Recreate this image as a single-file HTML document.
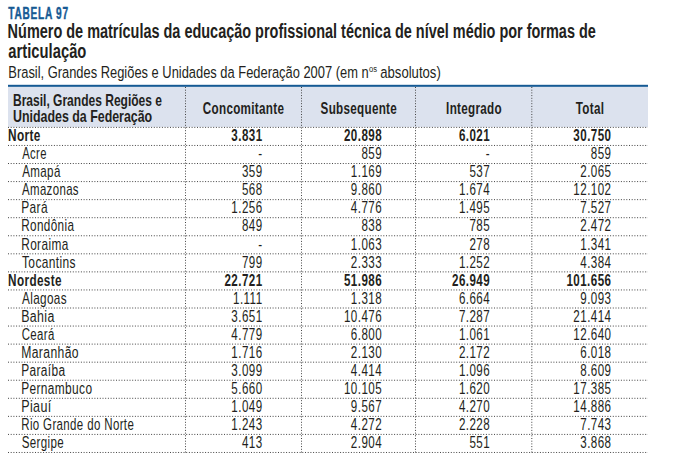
<!DOCTYPE html>
<html><head><meta charset="utf-8"><title>Tabela 97</title>
<style>
html,body{margin:0;padding:0;background:#fff;width:700px;height:461px;overflow:hidden}
svg{display:block;font-family:"Liberation Sans",sans-serif}
</style></head><body>
<svg width="700" height="461" viewBox="0 0 700 461">
<rect x="8" y="86" width="640" height="41" fill="#dce2ee"/>
<rect x="8" y="84.8" width="640" height="2" fill="#165a94"/>
<line x1="8" y1="127.40" x2="648" y2="127.40" stroke="#444" stroke-width="1" stroke-dasharray="1 1.7"/>
<line x1="8" y1="145.46" x2="648" y2="145.46" stroke="#444" stroke-width="1" stroke-dasharray="1 1.7"/>
<line x1="8" y1="163.52" x2="648" y2="163.52" stroke="#444" stroke-width="1" stroke-dasharray="1 1.7"/>
<line x1="8" y1="181.58" x2="648" y2="181.58" stroke="#444" stroke-width="1" stroke-dasharray="1 1.7"/>
<line x1="8" y1="199.64" x2="648" y2="199.64" stroke="#444" stroke-width="1" stroke-dasharray="1 1.7"/>
<line x1="8" y1="217.70" x2="648" y2="217.70" stroke="#444" stroke-width="1" stroke-dasharray="1 1.7"/>
<line x1="8" y1="235.76" x2="648" y2="235.76" stroke="#444" stroke-width="1" stroke-dasharray="1 1.7"/>
<line x1="8" y1="253.82" x2="648" y2="253.82" stroke="#444" stroke-width="1" stroke-dasharray="1 1.7"/>
<line x1="8" y1="271.88" x2="648" y2="271.88" stroke="#444" stroke-width="1" stroke-dasharray="1 1.7"/>
<line x1="8" y1="289.94" x2="648" y2="289.94" stroke="#444" stroke-width="1" stroke-dasharray="1 1.7"/>
<line x1="8" y1="308.00" x2="648" y2="308.00" stroke="#444" stroke-width="1" stroke-dasharray="1 1.7"/>
<line x1="8" y1="326.06" x2="648" y2="326.06" stroke="#444" stroke-width="1" stroke-dasharray="1 1.7"/>
<line x1="8" y1="344.12" x2="648" y2="344.12" stroke="#444" stroke-width="1" stroke-dasharray="1 1.7"/>
<line x1="8" y1="362.18" x2="648" y2="362.18" stroke="#444" stroke-width="1" stroke-dasharray="1 1.7"/>
<line x1="8" y1="380.24" x2="648" y2="380.24" stroke="#444" stroke-width="1" stroke-dasharray="1 1.7"/>
<line x1="8" y1="398.30" x2="648" y2="398.30" stroke="#444" stroke-width="1" stroke-dasharray="1 1.7"/>
<line x1="8" y1="416.36" x2="648" y2="416.36" stroke="#444" stroke-width="1" stroke-dasharray="1 1.7"/>
<line x1="8" y1="434.42" x2="648" y2="434.42" stroke="#444" stroke-width="1" stroke-dasharray="1 1.7"/>
<line x1="8" y1="452.48" x2="648" y2="452.48" stroke="#444" stroke-width="1" stroke-dasharray="1 1.7"/>
<line x1="185.5" y1="87" x2="185.5" y2="452.48" stroke="#444" stroke-width="1" stroke-dasharray="1 1.7"/>
<line x1="301.5" y1="87" x2="301.5" y2="452.48" stroke="#444" stroke-width="1" stroke-dasharray="1 1.7"/>
<line x1="415.5" y1="87" x2="415.5" y2="452.48" stroke="#444" stroke-width="1" stroke-dasharray="1 1.7"/>
<line x1="531.8" y1="87" x2="531.8" y2="452.48" stroke="#444" stroke-width="1" stroke-dasharray="1 1.7"/>
<text transform="translate(8.26,18.70) scale(0.6132,1)" font-size="16.5" font-weight="bold" letter-spacing="1.2" stroke="#165a94" stroke-width="0.45" fill="#165a94">TABELA 97</text>
<text transform="translate(7.60,38.00) scale(0.7422,1)" font-size="19.5" font-weight="bold" fill="#231f20">Número de matrículas da educação profissional técnica de nível médio por formas de</text>
<text transform="translate(8.34,57.50) scale(0.7583,1)" font-size="19.5" font-weight="bold" fill="#231f20">articulação</text>
<text transform="translate(8.34,78.00) scale(0.7815,1)" font-size="16.5" fill="#231f20">Brasil, Grandes Regiões e Unidades da Federação 2007 (em n</text>
<text transform="translate(369.00,72.30) scale(0.8000,1)" font-size="9.5" fill="#231f20">os</text>
<text transform="translate(380.20,78.00) scale(0.7967,1)" font-size="16.5" fill="#231f20">absolutos)</text>
<text transform="translate(12.99,106.00) scale(0.7524,1)" font-size="16" font-weight="bold" fill="#231f20">Brasil, Grandes Regiões e</text>
<text transform="translate(13.03,121.80) scale(0.7759,1)" font-size="16" font-weight="bold" fill="#231f20">Unidades da Federação</text>
<text transform="translate(243.50,114.20) scale(0.7300,1)" font-size="16" font-weight="bold" text-anchor="middle" letter-spacing="0.4" fill="#231f20">Concomitante</text>
<text transform="translate(358.80,114.20) scale(0.7300,1)" font-size="16" font-weight="bold" text-anchor="middle" letter-spacing="0.4" fill="#231f20">Subsequente</text>
<text transform="translate(474.00,114.20) scale(0.7300,1)" font-size="16" font-weight="bold" text-anchor="middle" letter-spacing="0.4" fill="#231f20">Integrado</text>
<text transform="translate(590.00,114.20) scale(0.7300,1)" font-size="16" font-weight="bold" text-anchor="middle" letter-spacing="0.4" fill="#231f20">Total</text>
<text transform="translate(8.10,141.00) scale(0.7393,1)" font-size="16" font-weight="bold" letter-spacing="0.5" fill="#231f20">Norte</text>
<text transform="translate(262.54,141.00) scale(0.7250,1)" font-size="16" font-weight="bold" text-anchor="end" letter-spacing="0.6" fill="#231f20">3.831</text>
<text transform="translate(382.04,141.00) scale(0.7250,1)" font-size="16" font-weight="bold" text-anchor="end" letter-spacing="0.6" fill="#231f20">20.898</text>
<text transform="translate(490.14,141.00) scale(0.7250,1)" font-size="16" font-weight="bold" text-anchor="end" letter-spacing="0.6" fill="#231f20">6.021</text>
<text transform="translate(611.44,141.00) scale(0.7250,1)" font-size="16" font-weight="bold" text-anchor="end" letter-spacing="0.6" fill="#231f20">30.750</text>
<text transform="translate(22.23,159.09) scale(0.7028,1)" font-size="16" letter-spacing="0.5" fill="#231f20">Acre</text>
<text transform="translate(262.54,159.09) scale(0.7250,1)" font-size="16" text-anchor="end" letter-spacing="0.6" fill="#231f20">-</text>
<text transform="translate(382.04,159.09) scale(0.7250,1)" font-size="16" text-anchor="end" letter-spacing="0.6" fill="#231f20">859</text>
<text transform="translate(490.14,159.09) scale(0.7250,1)" font-size="16" text-anchor="end" letter-spacing="0.6" fill="#231f20">-</text>
<text transform="translate(611.44,159.09) scale(0.7250,1)" font-size="16" text-anchor="end" letter-spacing="0.6" fill="#231f20">859</text>
<text transform="translate(22.23,177.17) scale(0.7241,1)" font-size="16" letter-spacing="0.5" fill="#231f20">Amapá</text>
<text transform="translate(262.54,177.17) scale(0.7250,1)" font-size="16" text-anchor="end" letter-spacing="0.6" fill="#231f20">359</text>
<text transform="translate(382.04,177.17) scale(0.7250,1)" font-size="16" text-anchor="end" letter-spacing="0.6" fill="#231f20">1.169</text>
<text transform="translate(490.14,177.17) scale(0.7250,1)" font-size="16" text-anchor="end" letter-spacing="0.6" fill="#231f20">537</text>
<text transform="translate(611.44,177.17) scale(0.7250,1)" font-size="16" text-anchor="end" letter-spacing="0.6" fill="#231f20">2.065</text>
<text transform="translate(21.99,195.25) scale(0.7162,1)" font-size="16" letter-spacing="0.5" fill="#231f20">Amazonas</text>
<text transform="translate(262.54,195.25) scale(0.7250,1)" font-size="16" text-anchor="end" letter-spacing="0.6" fill="#231f20">568</text>
<text transform="translate(382.04,195.25) scale(0.7250,1)" font-size="16" text-anchor="end" letter-spacing="0.6" fill="#231f20">9.860</text>
<text transform="translate(490.14,195.25) scale(0.7250,1)" font-size="16" text-anchor="end" letter-spacing="0.6" fill="#231f20">1.674</text>
<text transform="translate(611.44,195.25) scale(0.7250,1)" font-size="16" text-anchor="end" letter-spacing="0.6" fill="#231f20">12.102</text>
<text transform="translate(21.20,213.34) scale(0.7470,1)" font-size="16" letter-spacing="0.5" fill="#231f20">Pará</text>
<text transform="translate(262.54,213.34) scale(0.7250,1)" font-size="16" text-anchor="end" letter-spacing="0.6" fill="#231f20">1.256</text>
<text transform="translate(382.04,213.34) scale(0.7250,1)" font-size="16" text-anchor="end" letter-spacing="0.6" fill="#231f20">4.776</text>
<text transform="translate(490.14,213.34) scale(0.7250,1)" font-size="16" text-anchor="end" letter-spacing="0.6" fill="#231f20">1.495</text>
<text transform="translate(611.44,213.34) scale(0.7250,1)" font-size="16" text-anchor="end" letter-spacing="0.6" fill="#231f20">7.527</text>
<text transform="translate(21.20,231.42) scale(0.7346,1)" font-size="16" letter-spacing="0.5" fill="#231f20">Rondônia</text>
<text transform="translate(262.54,231.42) scale(0.7250,1)" font-size="16" text-anchor="end" letter-spacing="0.6" fill="#231f20">849</text>
<text transform="translate(382.04,231.42) scale(0.7250,1)" font-size="16" text-anchor="end" letter-spacing="0.6" fill="#231f20">838</text>
<text transform="translate(490.14,231.42) scale(0.7250,1)" font-size="16" text-anchor="end" letter-spacing="0.6" fill="#231f20">785</text>
<text transform="translate(611.44,231.42) scale(0.7250,1)" font-size="16" text-anchor="end" letter-spacing="0.6" fill="#231f20">2.472</text>
<text transform="translate(21.21,249.51) scale(0.7419,1)" font-size="16" letter-spacing="0.5" fill="#231f20">Roraima</text>
<text transform="translate(262.54,249.51) scale(0.7250,1)" font-size="16" text-anchor="end" letter-spacing="0.6" fill="#231f20">-</text>
<text transform="translate(382.04,249.51) scale(0.7250,1)" font-size="16" text-anchor="end" letter-spacing="0.6" fill="#231f20">1.063</text>
<text transform="translate(490.14,249.51) scale(0.7250,1)" font-size="16" text-anchor="end" letter-spacing="0.6" fill="#231f20">278</text>
<text transform="translate(611.44,249.51) scale(0.7250,1)" font-size="16" text-anchor="end" letter-spacing="0.6" fill="#231f20">1.341</text>
<text transform="translate(21.99,267.60) scale(0.7488,1)" font-size="16" letter-spacing="0.5" fill="#231f20">Tocantins</text>
<text transform="translate(262.54,267.60) scale(0.7250,1)" font-size="16" text-anchor="end" letter-spacing="0.6" fill="#231f20">799</text>
<text transform="translate(382.04,267.60) scale(0.7250,1)" font-size="16" text-anchor="end" letter-spacing="0.6" fill="#231f20">2.333</text>
<text transform="translate(490.14,267.60) scale(0.7250,1)" font-size="16" text-anchor="end" letter-spacing="0.6" fill="#231f20">1.252</text>
<text transform="translate(611.44,267.60) scale(0.7250,1)" font-size="16" text-anchor="end" letter-spacing="0.6" fill="#231f20">4.384</text>
<text transform="translate(8.12,285.68) scale(0.7347,1)" font-size="16" font-weight="bold" letter-spacing="0.5" fill="#231f20">Nordeste</text>
<text transform="translate(262.54,285.68) scale(0.7250,1)" font-size="16" font-weight="bold" text-anchor="end" letter-spacing="0.6" fill="#231f20">22.721</text>
<text transform="translate(382.04,285.68) scale(0.7250,1)" font-size="16" font-weight="bold" text-anchor="end" letter-spacing="0.6" fill="#231f20">51.986</text>
<text transform="translate(490.14,285.68) scale(0.7250,1)" font-size="16" font-weight="bold" text-anchor="end" letter-spacing="0.6" fill="#231f20">26.949</text>
<text transform="translate(611.44,285.68) scale(0.7250,1)" font-size="16" font-weight="bold" text-anchor="end" letter-spacing="0.6" fill="#231f20">101.656</text>
<text transform="translate(21.99,303.77) scale(0.7348,1)" font-size="16" letter-spacing="0.5" fill="#231f20">Alagoas</text>
<text transform="translate(262.54,303.77) scale(0.7250,1)" font-size="16" text-anchor="end" letter-spacing="0.6" fill="#231f20">1.111</text>
<text transform="translate(382.04,303.77) scale(0.7250,1)" font-size="16" text-anchor="end" letter-spacing="0.6" fill="#231f20">1.318</text>
<text transform="translate(490.14,303.77) scale(0.7250,1)" font-size="16" text-anchor="end" letter-spacing="0.6" fill="#231f20">6.664</text>
<text transform="translate(611.44,303.77) scale(0.7250,1)" font-size="16" text-anchor="end" letter-spacing="0.6" fill="#231f20">9.093</text>
<text transform="translate(21.16,321.85) scale(0.7749,1)" font-size="16" letter-spacing="0.5" fill="#231f20">Bahia</text>
<text transform="translate(262.54,321.85) scale(0.7250,1)" font-size="16" text-anchor="end" letter-spacing="0.6" fill="#231f20">3.651</text>
<text transform="translate(382.04,321.85) scale(0.7250,1)" font-size="16" text-anchor="end" letter-spacing="0.6" fill="#231f20">10.476</text>
<text transform="translate(490.14,321.85) scale(0.7250,1)" font-size="16" text-anchor="end" letter-spacing="0.6" fill="#231f20">7.287</text>
<text transform="translate(611.44,321.85) scale(0.7250,1)" font-size="16" text-anchor="end" letter-spacing="0.6" fill="#231f20">21.414</text>
<text transform="translate(21.73,339.94) scale(0.7153,1)" font-size="16" letter-spacing="0.5" fill="#231f20">Ceará</text>
<text transform="translate(262.54,339.94) scale(0.7250,1)" font-size="16" text-anchor="end" letter-spacing="0.6" fill="#231f20">4.779</text>
<text transform="translate(382.04,339.94) scale(0.7250,1)" font-size="16" text-anchor="end" letter-spacing="0.6" fill="#231f20">6.800</text>
<text transform="translate(490.14,339.94) scale(0.7250,1)" font-size="16" text-anchor="end" letter-spacing="0.6" fill="#231f20">1.061</text>
<text transform="translate(611.44,339.94) scale(0.7250,1)" font-size="16" text-anchor="end" letter-spacing="0.6" fill="#231f20">12.640</text>
<text transform="translate(21.17,358.02) scale(0.7607,1)" font-size="16" letter-spacing="0.5" fill="#231f20">Maranhão</text>
<text transform="translate(262.54,358.02) scale(0.7250,1)" font-size="16" text-anchor="end" letter-spacing="0.6" fill="#231f20">1.716</text>
<text transform="translate(382.04,358.02) scale(0.7250,1)" font-size="16" text-anchor="end" letter-spacing="0.6" fill="#231f20">2.130</text>
<text transform="translate(490.14,358.02) scale(0.7250,1)" font-size="16" text-anchor="end" letter-spacing="0.6" fill="#231f20">2.172</text>
<text transform="translate(611.44,358.02) scale(0.7250,1)" font-size="16" text-anchor="end" letter-spacing="0.6" fill="#231f20">6.018</text>
<text transform="translate(21.20,376.10) scale(0.7445,1)" font-size="16" letter-spacing="0.5" fill="#231f20">Paraíba</text>
<text transform="translate(262.54,376.10) scale(0.7250,1)" font-size="16" text-anchor="end" letter-spacing="0.6" fill="#231f20">3.099</text>
<text transform="translate(382.04,376.10) scale(0.7250,1)" font-size="16" text-anchor="end" letter-spacing="0.6" fill="#231f20">4.414</text>
<text transform="translate(490.14,376.10) scale(0.7250,1)" font-size="16" text-anchor="end" letter-spacing="0.6" fill="#231f20">1.096</text>
<text transform="translate(611.44,376.10) scale(0.7250,1)" font-size="16" text-anchor="end" letter-spacing="0.6" fill="#231f20">8.609</text>
<text transform="translate(21.21,394.19) scale(0.7446,1)" font-size="16" letter-spacing="0.5" fill="#231f20">Pernambuco</text>
<text transform="translate(262.54,394.19) scale(0.7250,1)" font-size="16" text-anchor="end" letter-spacing="0.6" fill="#231f20">5.660</text>
<text transform="translate(382.04,394.19) scale(0.7250,1)" font-size="16" text-anchor="end" letter-spacing="0.6" fill="#231f20">10.105</text>
<text transform="translate(490.14,394.19) scale(0.7250,1)" font-size="16" text-anchor="end" letter-spacing="0.6" fill="#231f20">1.620</text>
<text transform="translate(611.44,394.19) scale(0.7250,1)" font-size="16" text-anchor="end" letter-spacing="0.6" fill="#231f20">17.385</text>
<text transform="translate(21.14,412.27) scale(0.7852,1)" font-size="16" letter-spacing="0.5" fill="#231f20">Piauí</text>
<text transform="translate(262.54,412.27) scale(0.7250,1)" font-size="16" text-anchor="end" letter-spacing="0.6" fill="#231f20">1.049</text>
<text transform="translate(382.04,412.27) scale(0.7250,1)" font-size="16" text-anchor="end" letter-spacing="0.6" fill="#231f20">9.567</text>
<text transform="translate(490.14,412.27) scale(0.7250,1)" font-size="16" text-anchor="end" letter-spacing="0.6" fill="#231f20">4.270</text>
<text transform="translate(611.44,412.27) scale(0.7250,1)" font-size="16" text-anchor="end" letter-spacing="0.6" fill="#231f20">14.886</text>
<text transform="translate(21.23,430.36) scale(0.7195,1)" font-size="16" letter-spacing="0.5" fill="#231f20">Rio Grande do Norte</text>
<text transform="translate(262.54,430.36) scale(0.7250,1)" font-size="16" text-anchor="end" letter-spacing="0.6" fill="#231f20">1.243</text>
<text transform="translate(382.04,430.36) scale(0.7250,1)" font-size="16" text-anchor="end" letter-spacing="0.6" fill="#231f20">4.272</text>
<text transform="translate(490.14,430.36) scale(0.7250,1)" font-size="16" text-anchor="end" letter-spacing="0.6" fill="#231f20">2.228</text>
<text transform="translate(611.44,430.36) scale(0.7250,1)" font-size="16" text-anchor="end" letter-spacing="0.6" fill="#231f20">7.743</text>
<text transform="translate(21.73,448.44) scale(0.7229,1)" font-size="16" letter-spacing="0.5" fill="#231f20">Sergipe</text>
<text transform="translate(262.54,448.44) scale(0.7250,1)" font-size="16" text-anchor="end" letter-spacing="0.6" fill="#231f20">413</text>
<text transform="translate(382.04,448.44) scale(0.7250,1)" font-size="16" text-anchor="end" letter-spacing="0.6" fill="#231f20">2.904</text>
<text transform="translate(490.14,448.44) scale(0.7250,1)" font-size="16" text-anchor="end" letter-spacing="0.6" fill="#231f20">551</text>
<text transform="translate(611.44,448.44) scale(0.7250,1)" font-size="16" text-anchor="end" letter-spacing="0.6" fill="#231f20">3.868</text>
</svg>
</body></html>
